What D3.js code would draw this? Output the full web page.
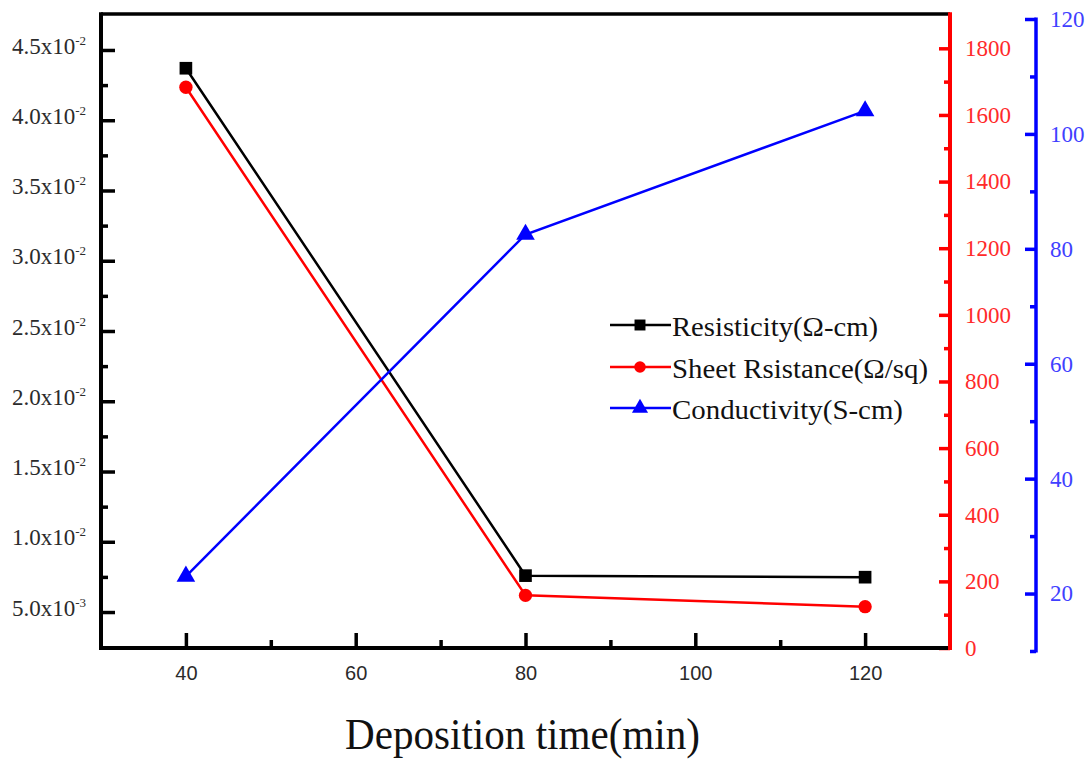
<!DOCTYPE html>
<html>
<head>
<meta charset="utf-8">
<script src="https://cdn.jsdelivr.net/npm/d3@7"></script>
<style>
  html, body { margin: 0; padding: 0; background: #fff; }
  svg { display: block; }
</style>
</head>
<body>
<svg id="chart" width="1091" height="760"></svg>
<script>
// ---- data ----
const times = [40, 80, 120];
const resistivity = [0.0437, 0.00759, 0.00748];      // Ω-cm (left axis)
const sheetResistance = [1683, 158, 124];             // Ω/sq (red axis)
const conductivity = [23, 82.5, 104];                 // S-cm (blue axis)

const seriesNames = ["Resisticity(Ω-cm)", "Sheet Rsistance(Ω/sq)", "Conductivity(S-cm)"];

const xTicks = [40, 60, 80, 100, 120];
const xMinorTicks = [50, 70, 90, 110];
const leftTicks = [0.005, 0.010, 0.015, 0.020, 0.025, 0.030, 0.035, 0.040, 0.045];
const leftMantissa = ["5.0x10", "1.0x10", "1.5x10", "2.0x10", "2.5x10", "3.0x10", "3.5x10", "4.0x10", "4.5x10"];
const leftExponent = ["-3", "-2", "-2", "-2", "-2", "-2", "-2", "-2", "-2"];
const leftMinorTicks = [0.0075, 0.0125, 0.0175, 0.0225, 0.0275, 0.0325, 0.0375, 0.0425];
const redTicks = [0, 200, 400, 600, 800, 1000, 1200, 1400, 1600, 1800];
const redMinorTicks = [100, 300, 500, 700, 900, 1100, 1300, 1500, 1700];
const blueTicks = [20, 40, 60, 80, 100, 120];
const blueMinorTicks = [10, 30, 50, 70, 90, 110];

// ---- layout ----
const L = 101, R = 950, T = 14, B = 648;
const BLUE_X = 1036;
const svg = d3.select("#chart");
const serif = "'Liberation Serif', 'Times New Roman', serif";
const sans = "'Liberation Sans', Arial, sans-serif";

const x = d3.scaleLinear().domain([30, 130]).range([L, R]);
const yL = d3.scaleLinear().domain([0.00244, 0.04756]).range([B, T]);
const yR = d3.scaleLinear().domain([0, 1900]).range([B, T + 1]);
const yB = d3.scaleLinear().domain([10, 120]).range([651, 19]);

function styleAxis(g, color, width) {
  g.select(".domain").remove();
  g.selectAll(".tick line").attr("stroke", color).attr("stroke-width", width);
}

// bottom axis (ticks inward)
const gx = svg.append("g").attr("transform", `translate(0,${B})`)
  .call(d3.axisBottom(x).tickValues(xTicks).tickSize(-15).tickPadding(0).tickFormat(d3.format("d")));
styleAxis(gx, "#000", 3.5);
gx.selectAll(".tick text").attr("font-family", sans).attr("font-size", 20).attr("fill", "#2a2a2a")
  .attr("y", 25).attr("dy", "0.35em");
const gxm = svg.append("g").attr("transform", `translate(0,${B})`)
  .call(d3.axisBottom(x).tickValues(xMinorTicks).tickSize(-8).tickFormat(""));
styleAxis(gxm, "#000", 3.5);

// left axis (ticks inward)
const gl = svg.append("g").attr("transform", `translate(${L},0)`)
  .call(d3.axisLeft(yL).tickValues(leftTicks).tickSize(-14).tickFormat(""));
styleAxis(gl, "#000", 3.5);
gl.selectAll(".tick").each(function(d, i) {
  const t = d3.select(this).append("text")
    .attr("x", -15).attr("y", 0).attr("dy", "0.32em")
    .attr("text-anchor", "end")
    .attr("font-family", serif).attr("fill", "#2b2b2b");
  t.append("tspan").attr("font-size", 23).text(leftMantissa[i]);
  t.append("tspan").attr("font-size", 13).attr("dy", -9).text(leftExponent[i]);
});
const glm = svg.append("g").attr("transform", `translate(${L},0)`)
  .call(d3.axisLeft(yL).tickValues(leftMinorTicks).tickSize(-7).tickFormat(""));
styleAxis(glm, "#000", 3.5);

// red right axis (ticks inward)
const gr = svg.append("g").attr("transform", `translate(${R},0)`)
  .call(d3.axisRight(yR).tickValues(redTicks).tickSize(-11).tickPadding(0).tickFormat(d3.format("d")));
styleAxis(gr, "#ff0000", 3.5);
gr.selectAll(".tick text").attr("x", 15).attr("font-family", serif).attr("font-size", 23)
  .attr("fill", "#ff2a2a").attr("dy", "0.32em");
const grm = svg.append("g").attr("transform", `translate(${R},0)`)
  .call(d3.axisRight(yR).tickValues(redMinorTicks).tickSize(-6).tickFormat(""));
styleAxis(grm, "#ff0000", 3.5);

// blue axis (ticks point left)
const gb = svg.append("g").attr("transform", `translate(${BLUE_X},0)`)
  .call(d3.axisRight(yB).tickValues(blueTicks).tickSize(-11).tickPadding(0).tickFormat(d3.format("d")));
styleAxis(gb, "#0000ff", 3.5);
gb.selectAll(".tick text").attr("x", 14).attr("font-family", serif).attr("font-size", 23)
  .attr("fill", "#4040ff").attr("dy", "0.32em");
const gbm = svg.append("g").attr("transform", `translate(${BLUE_X},0)`)
  .call(d3.axisRight(yB).tickValues(blueMinorTicks).tickSize(-6).tickFormat(""));
styleAxis(gbm, "#0000ff", 3.5);
svg.append("line").attr("x1", BLUE_X).attr("x2", BLUE_X).attr("y1", yB(120) - 1.5).attr("y2", yB(10) + 1.5)
  .attr("stroke", "#0000ff").attr("stroke-width", 3.5);

// frame
svg.append("line").attr("x1", L).attr("x2", R).attr("y1", T).attr("y2", T).attr("stroke", "#000").attr("stroke-width", 3.5);
svg.append("line").attr("x1", L).attr("x2", R).attr("y1", B).attr("y2", B).attr("stroke", "#000").attr("stroke-width", 4);
svg.append("line").attr("x1", L).attr("x2", L).attr("y1", T - 1.75).attr("y2", B + 2).attr("stroke", "#000").attr("stroke-width", 4);
svg.append("line").attr("x1", R).attr("x2", R).attr("y1", T - 1.75).attr("y2", B + 2).attr("stroke", "#ff0000").attr("stroke-width", 4);

// ---- series ----
const series = [
  { name: seriesNames[0], values: resistivity, y: yL, color: "#000000", symbol: d3.symbolSquare, size: 160 },
  { name: seriesNames[1], values: sheetResistance, y: yR, color: "#ff0000", symbol: d3.symbolCircle, size: 140 },
  { name: seriesNames[2], values: conductivity, y: yB, color: "#0000ff", symbol: d3.symbolTriangle, size: 150 }
];

series.forEach(s => {
  const pts = times.map((t, i) => [x(t), s.y(s.values[i])]);
  svg.append("path").datum(pts)
    .attr("d", d3.line())
    .attr("fill", "none").attr("stroke", s.color).attr("stroke-width", 2.5);
  svg.selectAll(null).data(pts).enter().append("path")
    .attr("transform", d => `translate(${d[0]},${d[1]})`)
    .attr("d", d3.symbol().type(s.symbol).size(s.size))
    .attr("fill", s.color);
});

// ---- legend ----
const legendRows = [325, 367, 408];
const legendWidths = [206, 256, 231];
series.forEach((s, i) => {
  const yy = legendRows[i];
  svg.append("line").attr("x1", 610).attr("x2", 671).attr("y1", yy).attr("y2", yy)
    .attr("stroke", s.color).attr("stroke-width", 2.5);
  svg.append("path").attr("transform", `translate(640,${yy})`)
    .attr("d", d3.symbol().type(s.symbol).size(s.size * 0.75)).attr("fill", s.color);
  svg.append("text").attr("x", 672).attr("y", yy + 11)
    .attr("font-family", serif).attr("font-size", 27).attr("fill", "#111")
    .attr("textLength", legendWidths[i]).attr("lengthAdjust", "spacingAndGlyphs")
    .text(s.name);
});

// ---- x title ----
svg.append("text").attr("x", 345).attr("y", 749)
  .attr("font-family", serif).attr("font-size", 45).attr("fill", "#111")
  .attr("textLength", 355).attr("lengthAdjust", "spacingAndGlyphs")
  .text("Deposition time(min)");
</script>
</body>
</html>
